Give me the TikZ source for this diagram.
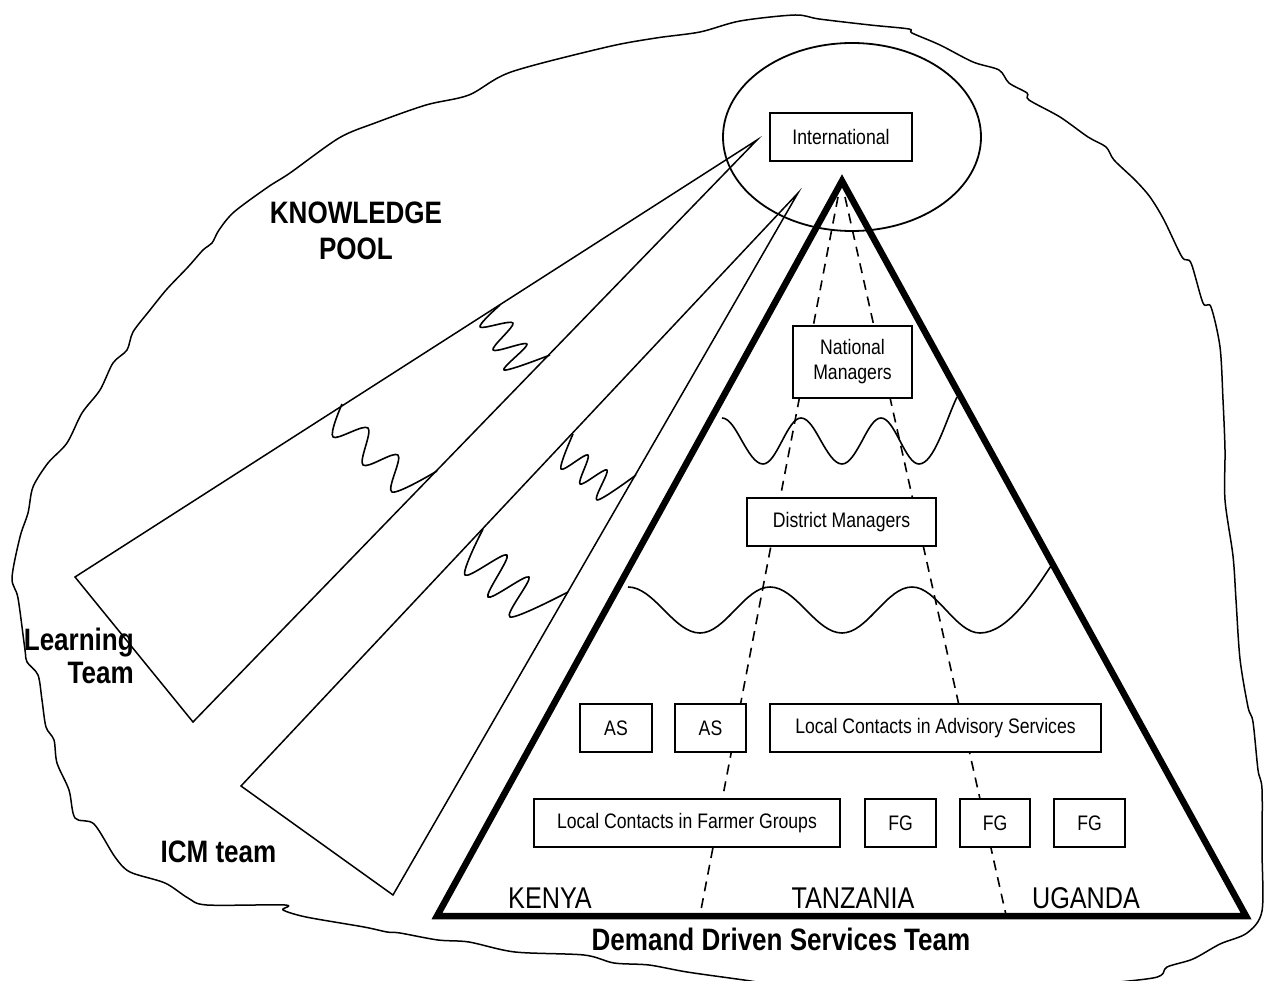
\documentclass[tikz,border=0pt]{standalone}
\usepackage{fontspec}
\setmainfont{Liberation Sans}[FakeStretch=0.84]
\usetikzlibrary{shapes.geometric}
\begin{document}
\begin{tikzpicture}[x=1pt,y=-1pt,
  outline/.style={line width=1.5pt, line join=round},
  cone/.style={line width=1.5pt},
  wiggle/.style={line width=1.6pt, line join=round},
  pyramid/.style={line width=6.5pt},
  wave/.style={line width=1.6pt},
  divider/.style={line width=1.6pt, dash pattern=on 10pt off 7pt},
  box/.style={draw, line width=1.8pt, fill=white, inner sep=0pt, font=\fontsize{21}{25}\selectfont, align=center},
  country/.style={inner sep=0pt, anchor=base, font=\fontsize{30}{34}\selectfont},
  team/.style={inner sep=0pt, font=\bfseries\fontsize{31}{36}\selectfont},
]
\useasboundingbox (0,0) rectangle (1264,981);
\fill[white] (0,0) rectangle (1264,981);

% knowledge pool outline
\begin{scope}
\clip (0,0) rectangle (1264,981);
\draw[outline] plot[smooth cycle, tension=0.5] coordinates {
 (700,32) (740,21) (795,15) (819,19) (870,25) (909,29) (912,33) (940,45) (973,62) (999,70) (1009,83) (1027,93) (1029,100) (1060,117) (1088,137) (1106,147) (1114,160) (1135,180) (1150,197) (1164,220) (1182,257) (1191,263) (1203,303) (1211,307) (1220,347) (1223,400) (1225,450) (1225,500) (1233,556) (1236,600) (1240,659) (1248,707) (1253,722) (1258,770) (1262,789) (1262,850) (1262,911) (1247,933) (1220,944) (1193,959) (1167,967) (1153,978) (1060,986) (980,982) (900,990) (800,988) (744,980) (687,972) (649,965) (614,963) (584,955) (515,952) (469,942) (438,940) (400,933) (387,932) (364,927) (306,917) (283,910) (285,905) (207,905) (188,898) (165,883) (130,872) (115,857) (94,824) (75,818) (69,790) (57,763) (54,740) (46,727) (42,700) (38,675) (27,662) (25,650) (18,598) (12,578) (20,537) (28,513) (33,487) (48,463) (67,443) (82,413) (100,390) (113,363) (127,350) (133,332) (150,310) (167,289) (188,267) (203,250) (212,243) (219,230) (234,212) (268,187) (290,173) (339,138) (375,123) (426,105) (469,95) (511,72) (607,47) (656,38)};
\end{scope}

% cones
\coordinate (c1a) at (757,140);
\coordinate (c1p) at (75,577);
\coordinate (c1q) at (193,722);
\coordinate (c2a) at (798,193);
\coordinate (c2p) at (241,786);
\coordinate (c2q) at (393,895);
\draw[cone] (c1a) -- (c1p) -- (c1q) -- cycle;
\draw[cone] (c2a) -- (c2p) -- (c2q) -- cycle;

% zigzag breaks in the cones
\draw[wiggle] plot[smooth, tension=0.55] coordinates {(500,305) (480,327) (513,323) (493,350) (527,344) (504,370) (550,355)};
\draw[wiggle] plot[smooth, tension=0.55] coordinates {(342,404) (333,437) (368,428) (363,465) (398,455) (392,492) (437,471)};
\draw[wiggle] plot[smooth, tension=0.55] coordinates {(573,434) (561,469) (588,455) (580,484) (607,470) (597,500) (636,475)};
\draw[wiggle] plot[smooth, tension=0.55] coordinates {(483,529) (465,575) (507,555) (488,597) (529,577) (510,617) (568,592)};

% international ellipse
\node[draw, ellipse, line width=1.8pt, minimum width=258pt, minimum height=188pt, inner sep=0pt] (intlpool) at (852,137) {};

% pyramid
\coordinate (apex) at (842,181);
\coordinate (bl) at (437,916);
\coordinate (br) at (1246,916);
\draw[pyramid] (apex) -- (br) -- (bl) -- cycle;

% waves
\coordinate (w1s) at (722,418);
\coordinate (w1e) at (957,397);
\draw[wave] (w1s) cos (742,441) sin (763,464) cos (782,441) sin (801,418) cos (821,441) sin (842,464) cos (862,441) sin (881,418) cos (900,441) sin (919,464) .. controls (934,464) and (946,420) .. (w1e);
\coordinate (w2s) at (628,587);
\coordinate (w2e) at (1053,563);
\draw[wave] (w2s) cos (664,610) sin (700,633) cos (735,610) sin (770,587) cos (806,610) sin (842,633) cos (877,610) sin (912,587) cos (946,610) sin (980,633) .. controls (1008,633) and (1035,590) .. (w2e);

% dividing lines
\coordinate (d1t) at (838,197);
\coordinate (d1b) at (700,915);
\coordinate (d2t) at (845,197);
\coordinate (d2b) at (1006,915);
\draw[divider] (d1t) -- (d1b);
\draw[divider] (d2t) -- (d2b);

% boxes
\node[box, minimum width=142pt, minimum height=48pt] (intl) at (841,137) {International};
\node[box, minimum width=119pt, minimum height=72pt] (natl) at (852.5,362) {National\\Managers};
\node[box, minimum width=189pt, minimum height=48pt] (dist) at (841.5,522) {District Managers};
\node[box, minimum width=72pt, minimum height=48pt] (as1) at (616,728) {AS};
\node[box, minimum width=71pt, minimum height=48pt] (as2) at (710.5,728) {AS};
\node[box, minimum width=331pt, minimum height=48pt] (lcas) at (935.5,728) {Local Contacts in Advisory Services};
\node[box, minimum width=306pt, minimum height=48pt] (lcfg) at (687,823) {Local Contacts in Farmer Groups};
\node[box, minimum width=71pt, minimum height=48pt] (fg1) at (900.5,823) {FG};
\node[box, minimum width=70pt, minimum height=48pt] (fg2) at (995,823) {FG};
\node[box, minimum width=71pt, minimum height=48pt] (fg3) at (1089.5,823) {FG};

% labels
\node[country] (kenya) at (550,908) {KENYA};
\node[country] (tanz) at (853,908) {TANZANIA};
\node[country] (uganda) at (1086,908) {UGANDA};
\node[team, anchor=base] (dds) at (781,950) {Demand Driven Services Team};
\node[team, anchor=north, align=center, font=\bfseries\fontsize{31}{36}\selectfont] (kp) at (356,202) {KNOWLEDGE\\POOL};
\node[team, anchor=north east, align=right, font=\bfseries\fontsize{31}{33}\selectfont] (lt) at (134,628) {Learning\\Team};
\node[team, anchor=base] (icm) at (218.5,862) {ICM team};
\end{tikzpicture}
\end{document}
